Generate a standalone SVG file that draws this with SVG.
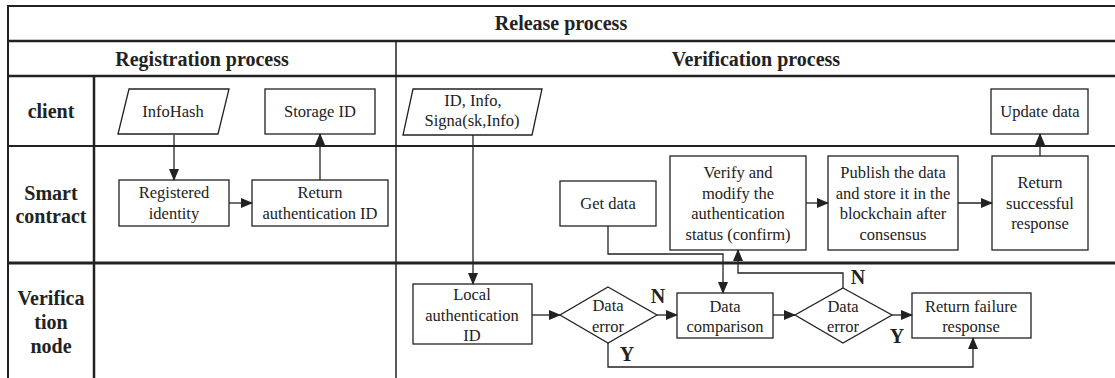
<svg xmlns="http://www.w3.org/2000/svg" width="1115" height="378" viewBox="0 0 1115 378">
<style>
text{font-family:'Liberation Serif','DejaVu Serif',serif}
.t{font-size:16.5px;fill:#222;text-anchor:middle}
.h{font-size:20px;font-weight:bold;fill:#222;text-anchor:middle}
.b{fill:#fff;stroke:#222;stroke-width:1.3}
.c{fill:none;stroke:#222;stroke-width:1.3}
.g{stroke:#222;fill:none}
</style>
<defs>
<marker id="ar" markerUnits="userSpaceOnUse" markerWidth="12" markerHeight="10" refX="11" refY="5" orient="auto">
<path d="M0,0 L12,5 L0,10 Z" fill="#222"/>
</marker>
</defs>
<rect width="1115" height="378" fill="#fff"/>
<g id="grid" class="g">
<line x1="7" y1="6" x2="1115" y2="6" stroke-width="2"/>
<line x1="7" y1="41" x2="1115" y2="41" stroke-width="2.5"/>
<line x1="7" y1="76" x2="1115" y2="76" stroke-width="2.5"/>
<line x1="7" y1="146" x2="1115" y2="146" stroke-width="2"/>
<line x1="7" y1="263" x2="1115" y2="263" stroke-width="3"/>
<line x1="8" y1="5" x2="8" y2="378" stroke-width="2"/>
<line x1="94" y1="76" x2="94" y2="378" stroke-width="2.5"/>
<line x1="396" y1="41" x2="396" y2="378" stroke-width="1.5"/>
</g>
<g id="headers">
<text class="h" x="561" y="30">Release process</text>
<text class="h" x="202" y="66">Registration process</text>
<text class="h" x="756" y="66">Verification process</text>
<text class="h" x="51" y="118">client</text>
<text class="h" x="51" y="200">Smart</text>
<text class="h" x="51" y="223">contract</text>
<text class="h" x="51" y="305">Verifica</text>
<text class="h" x="51" y="329">tion</text>
<text class="h" x="51" y="353">node</text>
</g>
<g id="n_infohash"><polygon class="b" points="129,89 229,89 218,134 118,134"/><text class="t" x="173" y="117">InfoHash</text></g>
<g id="n_storage"><rect class="b" x="265" y="89" width="110" height="45"/><text class="t" x="320" y="117">Storage ID</text></g>
<g id="n_registered"><rect class="b" x="119" y="180" width="110" height="46"/><text class="t" x="174" y="198">Registered</text><text class="t" x="174" y="219">identity</text></g>
<g id="n_retauth"><rect class="b" x="252" y="180" width="136" height="46"/><text class="t" x="320" y="198">Return</text><text class="t" x="320" y="219">authentication ID</text></g>
<g id="n_idinfo"><polygon class="b" points="413,89 542,89 532,135 403,135"/><text class="t" x="473" y="106">ID, Info,</text><text class="t" x="472" y="126">Signa(sk,Info)</text></g>
<g id="n_update"><rect class="b" x="991" y="89" width="97" height="45"/><text class="t" x="1040" y="117">Update data</text></g>
<g id="n_getdata"><rect class="b" x="560" y="181" width="96" height="45"/><text class="t" x="608" y="209">Get data</text></g>
<g id="n_verify"><rect class="b" x="670" y="156" width="136" height="94"/><text class="t" x="738" y="178">Verify and</text><text class="t" x="738" y="199">modify the</text><text class="t" x="738" y="219">authentication</text><text class="t" x="738" y="240">status (confirm)</text></g>
<g id="n_publish"><rect class="b" x="828" y="156" width="130" height="94"/><text class="t" x="893" y="178">Publish the data</text><text class="t" x="893" y="199">and store it in the</text><text class="t" x="893" y="219">blockchain after</text><text class="t" x="893" y="240">consensus</text></g>
<g id="n_retsucc"><rect class="b" x="992" y="156" width="96" height="94"/><text class="t" x="1040" y="188">Return</text><text class="t" x="1040" y="209">successful</text><text class="t" x="1040" y="229">response</text></g>
<g id="n_local"><rect class="b" x="413" y="284" width="119" height="60"/><text class="t" x="472" y="300">Local</text><text class="t" x="472" y="321">authentication</text><text class="t" x="472" y="341">ID</text></g>
<g id="n_err1"><polygon class="b" points="608,287 657,315 608,343 560,315"/><text class="t" x="608" y="311">Data</text><text class="t" x="608" y="332">error</text></g>
<g id="n_compare"><rect class="b" x="677" y="293" width="96" height="45"/><text class="t" x="725" y="312">Data</text><text class="t" x="725" y="332">comparison</text></g>
<g id="n_err2"><polygon class="b" points="843,288 892,315 843,343 795,315"/><text class="t" x="843" y="312">Data</text><text class="t" x="843" y="332">error</text></g>
<g id="n_retfail"><rect class="b" x="912" y="293" width="119" height="45"/><text class="t" x="971" y="312">Return failure</text><text class="t" x="971" y="332">response</text></g>
<g id="connectors" class="c">
<path d="M174,135 V180" marker-end="url(#ar)"/>
<path d="M229,203 H252" marker-end="url(#ar)"/>
<path d="M320,180 V134" marker-end="url(#ar)"/>
<path d="M473,135 V284" marker-end="url(#ar)"/>
<path d="M532,315 H560" marker-end="url(#ar)"/>
<path d="M657,315 H677" marker-end="url(#ar)"/>
<path d="M608,343 V367 H973 V338" marker-end="url(#ar)"/>
<path d="M608,226 V254 H723 V293" marker-end="url(#ar)"/>
<path d="M773,315 H795" marker-end="url(#ar)"/>
<path d="M892,315 H912" marker-end="url(#ar)"/>
<path d="M843,288 V273 H738 V250" marker-end="url(#ar)"/>
<path d="M806,203 H828" marker-end="url(#ar)"/>
<path d="M958,203 H992" marker-end="url(#ar)"/>
<path d="M1040,156 V134" marker-end="url(#ar)"/>
</g>
<g id="labels">
<text class="h" x="658" y="303">N</text>
<text class="h" x="627" y="361">Y</text>
<text class="h" x="858" y="284">N</text>
<text class="h" x="897" y="343">Y</text>
</g>
</svg>
